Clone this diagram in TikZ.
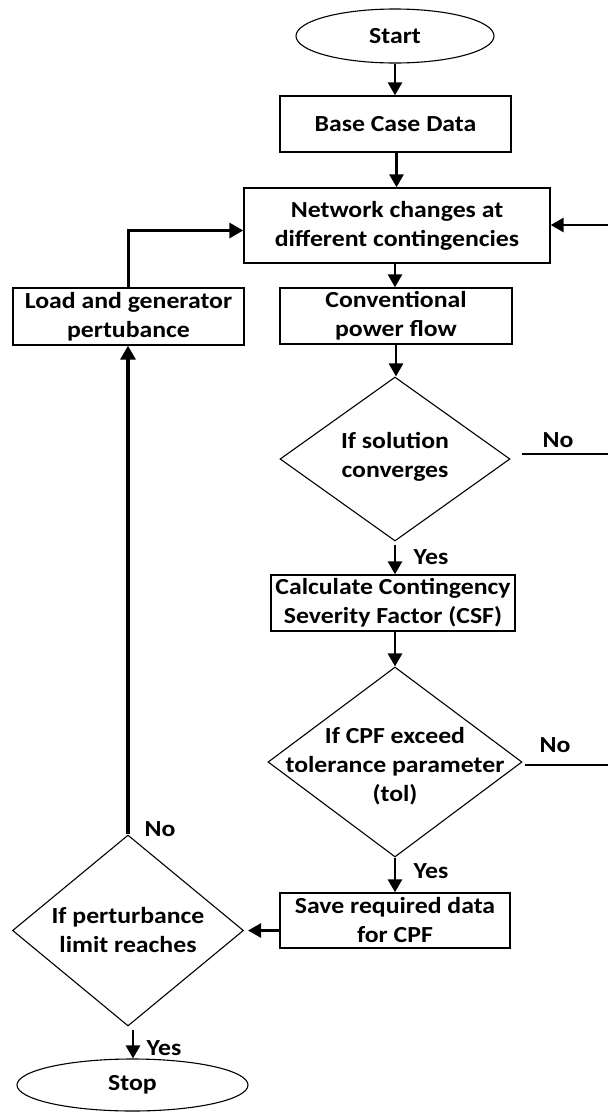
\documentclass[tikz,border=0pt]{standalone}
\usepackage{fontspec}
\setmainfont{Carlito}[FakeStretch=1.12]
\usetikzlibrary{shapes.geometric,arrows.meta,calc}

\begin{document}
\begin{tikzpicture}[x=1pt,y=-1pt,
  every node/.style={font=\fontsize{23}{29}\selectfont\bfseries, align=center},
  procbox/.style={draw, line width=1.4pt, inner sep=0pt},
  decision/.style={draw, diamond, line width=1.1pt, inner sep=0pt},
  terminal/.style={draw, ellipse, line width=1.1pt, inner sep=0pt},
  txt/.style={inner sep=0pt},
  flow/.style={line width=2.8pt, -{Triangle[length=13pt,width=14pt]}},
  loop/.style={line width=3.2pt, -{Triangle[length=14pt,width=15pt]}},
  plain/.style={line width=2.6pt}]

\useasboundingbox (0,0) rectangle (608,1112);

% main column
\node[terminal, minimum width=198pt, minimum height=54pt] (start) at (395,36) {};
\node[txt] at (start) {Start};
\node[procbox, minimum width=231pt, minimum height=56pt] (base) at (395.5,124) {Base Case Data};
\node[procbox, minimum width=306pt, minimum height=75pt] (net) at (397,225.5) {Network changes at\\different contingencies};
\node[procbox, minimum width=232pt, minimum height=56pt] (conv) at (396,316) {Conventional\\power flow};
\node[decision, minimum width=230pt, minimum height=164pt] (d1) at (395,459) {};
\node[txt] at (395,457) {If solution\\converges};
\node[procbox, minimum width=244pt, minimum height=56pt] (csf) at (393,603) {Calculate Contingency\\Severity Factor (CSF)};
\node[decision, minimum width=254pt, minimum height=190pt] (d2) at (395,762) {};
\node[txt] at (395,766) {If CPF exceed\\tolerance parameter\\(tol)};
\node[procbox, minimum width=230pt, minimum height=55pt] (save) at (395,920.5) {Save required data\\for CPF};

% left column
\node[procbox, minimum width=231pt, minimum height=57pt] (load) at (128.5,316.5) {Load and generator\\pertubance};
\node[decision, minimum width=231pt, minimum height=191pt] (d3) at (128,930.5) {};
\node[txt] at (128,930) {If perturbance\\limit reaches};
\node[terminal, minimum width=231pt, minimum height=52pt] (stop) at (132.5,1085) {};
\node[txt] at (stop) {Stop};

% free ends at the right border
\coordinate (rin)  at (608,225);
\coordinate (rno1) at (608,454);
\coordinate (rno2) at (608,765);

% connectors
\draw[flow] (start.south) -- (start.south |- base.north);
\draw[flow] ([xshift=1pt]base.south) -- ([xshift=1pt]base.south |- net.north);
\draw[flow] (rin) -- (net.east |- rin);
\draw[flow] ([xshift=-2pt]net.south) -- ([xshift=-2pt]net.south |- conv.north);
\draw[flow] (conv.south) -- (conv.south |- d1.north);
\draw[plain] ([shift={(11,-5)}]d1.east) -- (rno1);
\node[txt] at (558,440) {No};
\draw[flow] ([yshift=-3pt]d1.south) -- (d1.south |- csf.north);
\node[txt] at (431,557) {Yes};
\draw[flow] ([xshift=2pt]csf.south) -- ([xshift=2pt]csf.south |- d2.north);
\draw[plain] ([shift={(2,3)}]d2.east) -- (rno2);
\node[txt] at (555,745) {No};
\draw[flow] (d2.south) -- (d2.south |- save.north);
\node[txt] at (431,871) {Yes};
\draw[flow] (d3.east -| save.west) -- ([xshift=4pt]d3.east);
\draw[loop] (d3.north) -- (d3.north |- load.south);
\node[txt] at (160,829) {No};
\draw[loop] (load.north) |- ([yshift=-5pt]net.west);
\draw[flow] ([shift={(5,3)}]d3.south) -- ([xshift=5pt]d3.south |- stop.north);
\node[txt] at (164,1048) {Yes};
\end{tikzpicture}
\end{document}
